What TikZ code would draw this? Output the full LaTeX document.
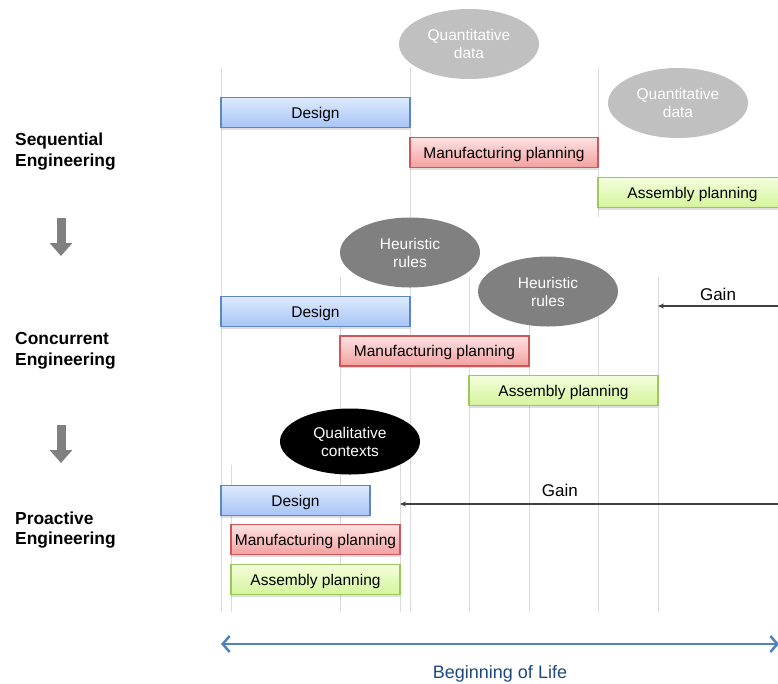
\documentclass[tikz,border=0pt]{standalone}
\usepackage{fontspec}
\setmainfont{Liberation Sans}
\usetikzlibrary{shapes.geometric,arrows.meta,shadows}

\definecolor{designtop}{RGB}{222,234,253}
\definecolor{designbot}{RGB}{166,196,246}
\definecolor{designline}{RGB}{92,134,196}
\definecolor{manuftop}{RGB}{253,226,226}
\definecolor{manufbot}{RGB}{244,160,160}
\definecolor{manufline}{RGB}{208,86,90}
\definecolor{assytop}{RGB}{244,254,220}
\definecolor{assybot}{RGB}{212,245,155}
\definecolor{assyline}{RGB}{155,200,92}
\definecolor{gridgray}{RGB}{218,218,218}
\definecolor{quantgray}{RGB}{192,192,192}
\definecolor{heurgray}{RGB}{128,128,128}
\definecolor{lifeblue}{RGB}{79,129,189}
\definecolor{lifetext}{RGB}{31,73,125}

\begin{document}
\begin{tikzpicture}[x=1pt,y=-1pt,
    bar/.style={draw, line width=1.2pt, minimum height=30pt, inner sep=0pt,
        text height=11pt, text depth=0pt,
        font=\fontsize{15.5}{18}\selectfont,
        drop shadow={shadow xshift=0pt,shadow yshift=-2pt,opacity=0.25}},
    designbar/.style={bar, draw=designline, top color=designtop, bottom color=designbot},
    manufbar/.style={bar, draw=manufline, top color=manuftop, bottom color=manufbot},
    assybar/.style={bar, draw=assyline, top color=assytop, bottom color=assybot},
    blob/.style={ellipse, minimum width=140pt, minimum height=70pt, inner sep=0pt,
        align=center, text=white, font=\fontsize{15.5}{18}\selectfont},
    gridline/.style={draw=gridgray, line width=0.8pt},
    phase/.style={anchor=west, align=left, inner sep=0pt,
        font=\bfseries\fontsize{17.4}{20.5}\selectfont},
    gainarrow/.style={draw=black!75, line width=1.2pt, -{Stealth[length=6pt,width=5pt]}},
    stagearrow/.style={draw=heurgray, line width=9pt, -{Triangle[length=13pt,width=22pt]}}]

    \useasboundingbox (0,0) rectangle (778,683);

    % grid
    \draw[gridline] (221,68) -- (221,612);
    \foreach \x in {410,598}
        \draw[gridline] (\x,68) -- (\x,217);
    \foreach \x in {340,410,469,529,598,658}
        \draw[gridline] (\x,277) -- (\x,612);
    \foreach \x in {231,400}
        \draw[gridline] (\x,465) -- (\x,612);

    % phases
    \node[phase] (seq) at (15,151.5) {Sequential\\Engineering};
    \node[phase] (con) at (15,351) {Concurrent\\Engineering};
    \node[phase] (pro) at (15,530) {Proactive\\Engineering};
    \coordinate (a1) at (61,218);
    \coordinate (b1) at (61,256);
    \coordinate (a2) at (61,425);
    \coordinate (b2) at (61,463);
    \draw[stagearrow] (a1) -- (b1);
    \draw[stagearrow] (a2) -- (b2);

    % sequential
    \node[designbar, minimum width=189pt] (sdesign) at (315.5,112.5) {Design};
    \node[manufbar, minimum width=188pt] (smanuf) at (504,152.5) {Manufacturing planning};
    \node[assybar, minimum width=189pt] (sassy) at (692.5,192.5) {Assembly planning};
    \node[blob, fill=quantgray] (quant1) at (469,44) {Quantitative\\data};
    \node[blob, fill=quantgray] (quant2) at (678,103) {Quantitative\\data};

    % concurrent
    \node[designbar, minimum width=189pt] (cdesign) at (315.5,311.5) {Design};
    \node[manufbar, minimum width=189pt] (cmanuf) at (434.5,351) {Manufacturing planning};
    \node[assybar, minimum width=189pt] (cassy) at (563.5,390.5) {Assembly planning};
    \node[blob, fill=heurgray] (heur1) at (410,252.5) {Heuristic\\rules};
    \node[blob, fill=heurgray] (heur2) at (548,291.5) {Heuristic\\rules};
    \coordinate (cgainR) at (778,306);
    \coordinate (cgainL) at (658,306);
    \draw[gainarrow] (cgainR) -- node[above=1.5pt, font=\fontsize{17}{20}\selectfont] (cgain) {Gain} (cgainL);

    % proactive
    \node[designbar, minimum width=149pt] (pdesign) at (295.5,500.5) {Design};
    \node[manufbar, minimum width=169pt] (pmanuf) at (315.5,539.5) {Manufacturing planning};
    \node[assybar, minimum width=169pt] (passy) at (315.5,579.5) {Assembly planning};
    \node[blob, fill=black, minimum height=66pt] (qual) at (350,441.5) {Qualitative\\contexts};
    \coordinate (pgainR) at (778,504);
    \coordinate (pgainL) at (400,504);
    \draw[gainarrow] (pgainR) -- node[pos=0.577, above=3.5pt, font=\fontsize{17}{20}\selectfont] (pgain) {Gain} (pgainL);

    % life axis
    \coordinate (lifeL) at (221,644);
    \coordinate (lifeR) at (779,644);
    \draw[draw=lifeblue, line width=2.5pt, {Straight Barb[length=7pt,width=16pt]}-{Straight Barb[length=7pt,width=16pt]}] (lifeL) -- (lifeR);
    \node[text=lifetext, font=\fontsize{18}{21}\selectfont] (life) at (500,674) {Beginning of Life};

\end{tikzpicture}
\end{document}
